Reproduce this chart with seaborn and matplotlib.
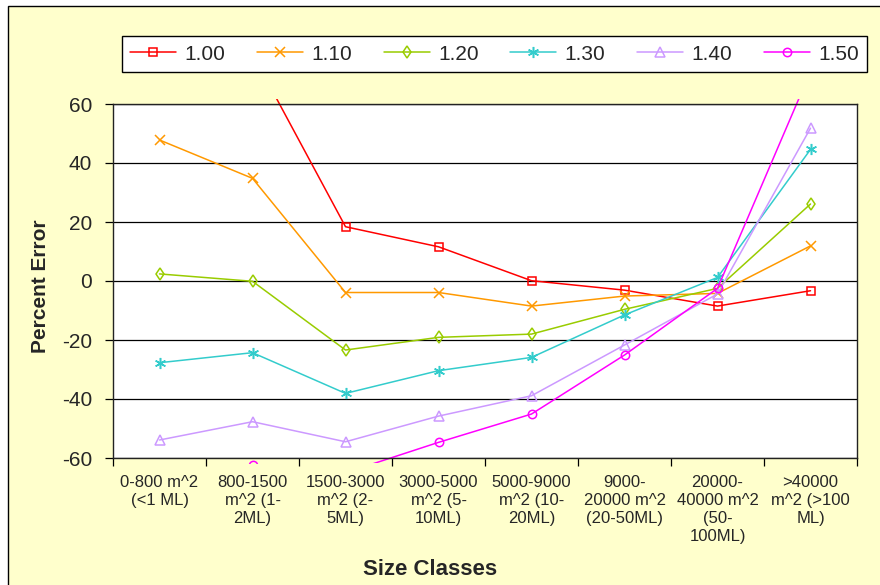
import numpy as np
import pandas as pd
import matplotlib.pyplot as plt
import seaborn as sns
from matplotlib.patches import Rectangle

# ── DATA ─────────────────────────────────────────────────────────
size_classes = [
    "0-800 m^2\n(<1 ML)",
    "800-1500\nm^2 (1-\n2ML)",
    "1500-3000\nm^2 (2-\n5ML)",
    "3000-5000\nm^2 (5-\n10ML)",
    "5000-9000\nm^2 (10-\n20ML)",
    "9000-\n20000 m^2\n(20-50ML)",
    "20000-\n40000 m^2\n(50-\n100ML)",
    ">40000\nm^2 (>100\nML)",
]
ratios = ["1.00", "1.10", "1.20", "1.30", "1.40", "1.50"]

err_100 = [100, 77, 18.4, 11.6, 0.1, -3.1, -8.5, -3.3]
err_110 = [47.8, 34.8, -3.9, -3.9, -8.5, -5.1, -4.2, 11.9]
err_120 = [2.4, -0.1, -23.4, -19.1, -18.0, -9.6, -2.5, 26.1]
err_130 = [-27.7, -24.3, -38.1, -30.4, -25.9, -11.5, 1.2, 44.6]
err_140 = [-53.9, -47.7, -54.5, -45.8, -38.9, -21.7, -4.4, 51.8]
err_150 = [-75, -62.5, -65, -54.7, -45.1, -25.1, -2.5, 71]

y_ticks = [-60, -40, -20, 0, 20, 40, 60]

colors  = ["#FF0000", "#FF9900", "#99CC00", "#33CCCC", "#CC99FF", "#FF00FF"]
markers = ["s", "x", "d", (6, 2, 0), "^", "o"]
msizes  = [6, 7, 6.5, 8, 7, 6]

df = pd.DataFrame({
    "size": size_classes * len(ratios),
    "ratio": np.repeat(ratios, len(size_classes)),
    "err": np.concatenate([err_100, err_110, err_120, err_130, err_140, err_150]),
})
df["pos"] = df["size"].map({c: i for i, c in enumerate(size_classes)})

# ── STYLE ────────────────────────────────────────────────────────
sns.set_theme(style="white")
plt.rcParams["font.family"] = ["Liberation Sans", "DejaVu Sans"]
plt.rcParams["axes.unicode_minus"] = False

fig = plt.figure(figsize=(8.8, 5.85), dpi=100, facecolor="white")
fig.add_artist(Rectangle((8 / 880, -0.05), 1.1, 1 - 6 / 585 + 0.05,
                         transform=fig.transFigure, facecolor="#FFFFCC",
                         edgecolor="black", lw=1, zorder=-1))
ax = fig.add_axes([113 / 880, 1 - 458 / 585, 744 / 880, 354 / 585])
ax.set_facecolor("white")

for r, c, m, ms in zip(ratios, colors, markers, msizes):
    sub = df[df["ratio"] == r]
    sns.lineplot(data=sub, x="pos", y="err", ax=ax, color=c, marker=m,
                 markersize=ms, markeredgecolor=c, markerfacecolor="none",
                 markeredgewidth=1.1, lw=1.1, sort=False, legend=False)

handles = list(ax.get_lines())

# axes
ax.set_xlim(-0.5, len(size_classes) - 0.5)
ax.set_ylim(-60, 60)
ax.set_yticks(y_ticks)
ax.set_xticks(np.arange(len(size_classes) + 1) - 0.5)
ax.set_xticklabels([])
ax.set_xticks(np.arange(len(size_classes)), minor=True)
ax.set_xticklabels(size_classes, minor=True, fontsize=12)
for lab in ax.get_xticklabels(minor=True):
    lab.set_linespacing(1.25)
ax.tick_params(axis="x", which="major", bottom=True, length=6, width=0.9,
               color="black", direction="out")
ax.tick_params(axis="x", which="minor", bottom=True, length=0, pad=12)
ax.tick_params(axis="y", left=True, length=6, width=0.9, color="black",
               direction="out", labelsize=15, pad=9)
ax.grid(axis="y", which="major", color="black", lw=0.9)
ax.grid(axis="x", visible=False)
for s in ax.spines.values():
    s.set_color("#222222")
    s.set_linewidth(1.0)
ax.set_xlabel("")
ax.set_ylabel("")

fig.text(46 / 880, 1 - 286 / 585, "Percent Error", rotation=90,
         rotation_mode="anchor", ha="center", va="baseline",
         fontsize=15, fontweight="bold")
fig.text(430 / 880, 1 - 575 / 585, "Size Classes", ha="center",
         va="baseline", fontsize=16, fontweight="bold")

fig.legend(handles, ratios, loc="lower left",
           bbox_to_anchor=(122 / 880, 1 - 72 / 585, 745 / 880, 37 / 585),
           mode="expand", ncol=6, frameon=True, fancybox=False,
           edgecolor="black", facecolor="white", framealpha=1,
           fontsize=15, handlelength=2.2, handletextpad=0.4,
           borderaxespad=0, borderpad=0.4, numpoints=1)

# Excel lets lines run a few pixels past the plot area
clip = Rectangle((0, -0.013), 1, 1.026, transform=ax.transAxes)
for line in handles:
    line.set_clip_path(clip)

fig.savefig("out.png", dpi=100, facecolor=fig.get_facecolor())
